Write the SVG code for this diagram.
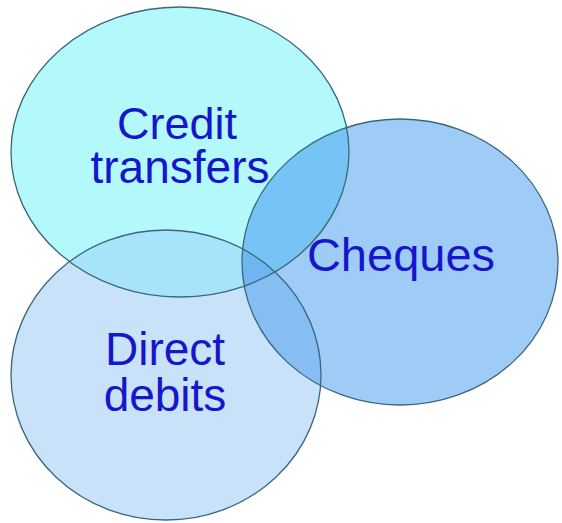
<svg xmlns="http://www.w3.org/2000/svg" width="562" height="523" viewBox="0 0 562 523">
  <style>
    .outline { fill: none; stroke: #3a6878; stroke-width: 1.3; }
    .label { font-family: "Liberation Sans", Arial, sans-serif; font-size: 45px; fill: #1616cc; text-anchor: middle; }
  </style>
  <defs>
    <clipPath id="clipA"><ellipse cx="180" cy="152" rx="169" ry="145"/></clipPath>
    <clipPath id="clipB"><ellipse cx="166" cy="375" rx="155" ry="145"/></clipPath>
  </defs>
  <rect x="0" y="0" width="562" height="523" fill="#ffffff"/>
  <g id="credit-transfers">
    <ellipse cx="180" cy="152" rx="169" ry="145" fill="#b3f9fb"/>
  </g>
  <g id="direct-debits">
    <ellipse cx="166" cy="375" rx="155" ry="145" fill="#c8e2f9"/>
  </g>
  <g id="cheques">
    <ellipse cx="400" cy="262" rx="158" ry="143" fill="#9fccf6"/>
  </g>
  <g id="overlaps">
    <ellipse cx="166" cy="375" rx="155" ry="145" fill="#a7e3fa" clip-path="url(#clipA)"/>
    <ellipse cx="400" cy="262" rx="158" ry="143" fill="#76c4f6" clip-path="url(#clipA)"/>
    <ellipse cx="400" cy="262" rx="158" ry="143" fill="#86bdf3" clip-path="url(#clipB)"/>
    <g clip-path="url(#clipB)">
      <ellipse cx="400" cy="262" rx="158" ry="143" fill="#6db6f2" clip-path="url(#clipA)"/>
    </g>
  </g>
  <g id="outlines">
    <ellipse class="outline" cx="180" cy="152" rx="169" ry="145"/>
    <ellipse class="outline" cx="166" cy="375" rx="155" ry="145"/>
    <ellipse class="outline" cx="400" cy="262" rx="158" ry="143"/>
  </g>
  <g id="labels">
    <text class="label" x="177" y="139">Credit</text>
    <text class="label" x="180" y="183" style="font-size:46px">transfers</text>
    <text class="label" x="401" y="271" style="font-size:47px">Cheques</text>
    <text class="label" x="165" y="365" style="font-size:46px">Direct</text>
    <text class="label" x="165" y="411" style="font-size:46px">debits</text>
  </g>
</svg>
